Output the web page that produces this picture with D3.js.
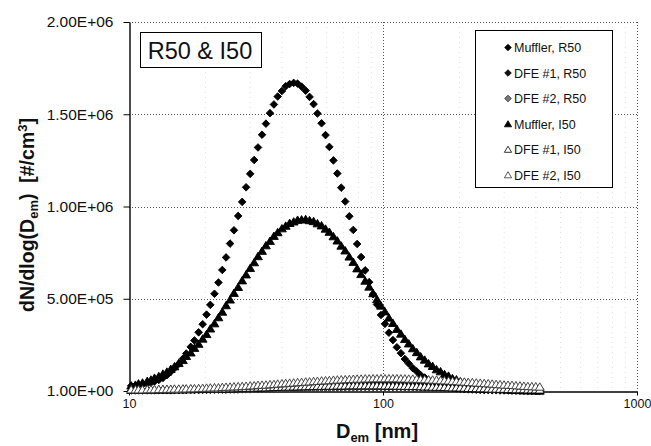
<!DOCTYPE html>
<html>
<head>
<meta charset="utf-8">
<script src="https://cdn.jsdelivr.net/npm/d3@7"></script>
<style>
  html, body { margin: 0; padding: 0; background: #fff; }
  svg { display: block; font-family: "Liberation Sans", Arial, Helvetica, sans-serif; }
</style>
</head>
<body>
<svg id="chart" width="651" height="446"></svg>
<script>
// SMPS channel mid-point diameters [nm], 64 channels per decade
const diameters = [
  10.2, 10.6, 10.9, 11.3, 11.8, 12.2, 12.6, 13.1, 13.6, 14.1,
  14.6, 15.1, 15.7, 16.3, 16.8, 17.5, 18.1, 18.8, 19.5, 20.2,
  20.9, 21.7, 22.5, 23.3, 24.1, 25.0, 25.9, 26.9, 27.9, 28.9,
  30.0, 31.1, 32.2, 33.4, 34.6, 35.9, 37.2, 38.5, 40.0, 41.4,
  42.9, 44.5, 46.1, 47.8, 49.6, 51.4, 53.3, 55.2, 57.3, 59.4,
  61.5, 63.8, 66.1, 68.5, 71.0, 73.7, 76.4, 79.1, 82.0, 85.1,
  88.2, 91.4, 94.7, 98.2, 101.8, 105.5, 109.4, 113.4, 117.6, 121.9,
  126.3, 131.0, 135.8, 140.7, 145.9, 151.2, 156.8, 162.5, 168.5, 174.7,
  181.1, 187.7, 194.6, 201.7, 209.1, 216.7, 224.7, 232.9, 241.4, 250.3,
  259.5, 269.0, 278.8, 289.0, 299.6, 310.6, 322.0, 333.8, 346.0, 358.7,
  371.8, 385.4, 399.5, 414.2
];

// dN/dlog(Dem) in thousands of particles per cm3
const UNIT = 1e3;

const muffR50 = [
  28, 30, 33, 36, 41, 45, 52, 60, 71, 86,
  104, 124, 147, 175, 203, 239, 274, 318, 362, 414,
  467, 527, 588, 656, 724, 799, 871, 949, 1025, 1104,
  1177, 1252, 1320, 1389, 1449, 1506, 1553, 1596, 1626, 1652,
  1664, 1670, 1666, 1650, 1628, 1594, 1555, 1504, 1451, 1387,
  1323, 1250, 1179, 1102, 1027, 947, 873, 797, 726, 654,
  590, 525, 469, 412, 364, 316, 276, 237, 205, 173,
  149, 124, 106, 86, 73, 59, 50, 40, 33, 26,
  21, 17, 14, 12, 10, 9, 8, 7, 6, 5,
  5, 4, 4, 3, 3, 3, 2, 2, 2, 2,
  1, 1, 1, 1
];

const dfe1R50 = [
  4, 4, 4, 4, 4, 5, 5, 5, 5, 5,
  5, 6, 6, 6, 6, 7, 7, 7, 8, 8,
  8, 9, 9, 10, 10, 11, 11, 12, 12, 13,
  14, 14, 15, 16, 17, 17, 18, 19, 20, 21,
  22, 23, 24, 25, 26, 27, 28, 29, 30, 31,
  32, 33, 33, 34, 35, 36, 36, 37, 37, 38,
  38, 39, 39, 39, 40, 40, 40, 40, 40, 40,
  40, 39, 39, 39, 38, 38, 37, 37, 36, 35,
  35, 34, 33, 32, 31, 30, 29, 28, 27, 26,
  25, 24, 23, 22, 21, 20, 19, 18, 17, 16,
  15, 14, 13, 12
];

const dfe2R50 = [
  2, 2, 2, 2, 2, 2, 3, 3, 3, 3,
  3, 3, 3, 4, 4, 4, 4, 4, 5, 5,
  5, 5, 6, 6, 6, 7, 7, 7, 8, 8,
  8, 9, 9, 10, 10, 11, 11, 12, 12, 13,
  13, 14, 14, 15, 15, 16, 16, 16, 17, 17,
  17, 18, 18, 18, 19, 19, 19, 19, 20, 20,
  20, 20, 20, 20, 20, 20, 20, 20, 20, 19,
  19, 19, 19, 18, 18, 18, 17, 17, 17, 16,
  16, 15, 15, 14, 14, 13, 13, 12, 12, 11,
  11, 10, 10, 9, 9, 8, 8, 8, 7, 7,
  6, 6, 6, 5
];

const muffI50 = [
  29, 33, 40, 45, 54, 61, 71, 80, 93, 104,
  119, 133, 151, 167, 189, 208, 233, 255, 283, 308,
  338, 366, 399, 429, 464, 495, 531, 563, 599, 631,
  666, 697, 730, 759, 789, 813, 840, 860, 881, 895,
  910, 918, 927, 929, 931, 925, 920, 908, 897, 879,
  862, 838, 815, 787, 761, 728, 699, 664, 633, 597,
  565, 529, 497, 462, 431, 397, 368, 336, 310, 281,
  257, 231, 210, 187, 169, 149, 135, 117, 106, 91,
  82, 69, 62, 52, 47, 38, 35, 28, 25, 20,
  18, 14, 13, 10, 9, 7, 6, 5, 4, 3,
  3, 2, 2, 1
];

const dfe1I50 = [
  5, 5, 5, 6, 6, 6, 6, 7, 7, 7,
  7, 8, 8, 8, 9, 9, 10, 10, 10, 11,
  11, 12, 12, 13, 13, 14, 14, 15, 16, 16,
  17, 17, 18, 19, 19, 20, 21, 21, 22, 23,
  23, 24, 24, 25, 25, 26, 26, 27, 27, 28,
  28, 28, 29, 29, 29, 30, 30, 30, 30, 30,
  30, 30, 30, 30, 29, 29, 29, 28, 28, 27,
  27, 26, 26, 25, 24, 24, 23, 22, 22, 21,
  20, 19, 19, 18, 17, 16, 16, 15, 14, 14,
  13, 12, 12, 11, 11, 10, 10, 9, 9, 9,
  8, 8, 8, 7
];

const dfe2I50 = [
  8, 8, 8, 8, 9, 9, 9, 10, 10, 11,
  11, 12, 12, 13, 13, 14, 14, 15, 16, 17,
  18, 19, 19, 21, 22, 23, 24, 25, 26, 27,
  29, 30, 32, 33, 34, 36, 37, 39, 41, 42,
  44, 45, 47, 48, 50, 51, 53, 54, 56, 57,
  58, 60, 61, 62, 63, 64, 65, 66, 66, 67,
  67, 68, 68, 68, 68, 68, 68, 68, 67, 67,
  66, 66, 65, 64, 63, 62, 61, 60, 58, 57,
  56, 54, 53, 51, 50, 48, 47, 45, 44, 42,
  41, 39, 37, 36, 34, 33, 32, 30, 29, 27,
  26, 25, 24, 23
];

const seriesNames = [
  "Muffler, R50", "DFE #1, R50", "DFE #2, R50",
  "Muffler, I50", "DFE #1, I50", "DFE #2, I50"
];
const seriesValues = [muffR50, dfe1R50, dfe2R50, muffI50, dfe1I50, dfe2I50];

const yTickValues = [1, 5e5, 1e6, 1.5e6, 2e6];
const yTickLabels = ["1.00E+00", "5.00E+05", "1.00E+06", "1.50E+06", "2.00E+06"];
const xTickValues = [10, 100, 1000];
const xTickLabels = ["10", "100", "1000"];
const xMinorGrid = [20, 30, 40, 50, 60, 70, 80, 90, 200, 300, 400, 500, 600, 700, 800, 900];

// ---- marker shapes (size argument = half width) ----
const diamondShape = {
  draw(ctx, r) {
    ctx.moveTo(0, -r); ctx.lineTo(r, 0); ctx.lineTo(0, r); ctx.lineTo(-r, 0); ctx.closePath();
  }
};
const triangleShape = {
  draw(ctx, r) {
    ctx.moveTo(0, -r); ctx.lineTo(r * 1.1, r * 0.85); ctx.lineTo(-r * 1.1, r * 0.85); ctx.closePath();
  }
};

const seriesStyles = [
  { shape: diamondShape, size: 3.8, fill: "#000", stroke: "#000" },
  { shape: diamondShape, size: 3.6, fill: "#111", stroke: "#000" },
  { shape: diamondShape, size: 3.6, fill: "#7a7a7a", stroke: "#222" },
  { shape: triangleShape, size: 4.0, fill: "#000", stroke: "#000" },
  { shape: triangleShape, size: 4.0, fill: "#fff", stroke: "#000" },
  { shape: triangleShape, size: 4.0, fill: "#fff", stroke: "#333" }
];

// ---- layout ----
const W = 651, H = 446;
const margin = { top: 22, right: 14, bottom: 55, left: 129 };
const svg = d3.select("#chart");

const x = d3.scaleLog().domain([10, 1000]).range([margin.left, W - margin.right]);
const y = d3.scaleLinear().domain([1, 2e6]).range([H - margin.bottom, margin.top]);

// ---- grid ----
const grid = svg.append("g").attr("class", "grid");
grid.selectAll("line.minor").data(xMinorGrid).join("line")
  .attr("class", "minor")
  .attr("x1", d => x(d)).attr("x2", d => x(d))
  .attr("y1", y(2e6)).attr("y2", y(1))
  .attr("stroke", "#e2e2e2").attr("stroke-width", 1).attr("stroke-dasharray", "1,4");
grid.selectAll("line.h").data(yTickValues.slice(1)).join("line")
  .attr("class", "h")
  .attr("x1", x(10)).attr("x2", x(1000))
  .attr("y1", d => Math.round(y(d)) + 0.5).attr("y2", d => Math.round(y(d)) + 0.5)
  .attr("stroke", "#555").attr("stroke-width", 1).attr("stroke-dasharray", "1,2");
grid.selectAll("line.v").data(xTickValues.slice(1)).join("line")
  .attr("class", "v")
  .attr("x1", d => Math.round(x(d)) + 0.5).attr("x2", d => Math.round(x(d)) + 0.5)
  .attr("y1", y(2e6)).attr("y2", y(1))
  .attr("stroke", "#555").attr("stroke-width", 1).attr("stroke-dasharray", "1,2");

// ---- axes ----
const yAxis = d3.axisLeft(y)
  .tickValues(yTickValues)
  .tickFormat((d, i) => yTickLabels[i])
  .tickSize(6).tickSizeOuter(0).tickPadding(10);
const gy = svg.append("g").attr("transform", `translate(${margin.left + 0.5},0)`).call(yAxis);
gy.selectAll("text").attr("font-size", 15.5).attr("fill", "#111").attr("font-family", null);
gy.select(".domain").attr("stroke-width", 1.4);

const xAxis = d3.axisBottom(x)
  .tickValues(xTickValues)
  .tickFormat((d, i) => xTickLabels[i])
  .tickSize(4).tickSizeOuter(0).tickPadding(4);
const gx = svg.append("g").attr("transform", `translate(0,${H - margin.bottom + 0.5})`).call(xAxis);
gx.selectAll("text").attr("font-size", 12.5).attr("fill", "#111").attr("font-family", null);
gx.select(".domain").attr("stroke-width", 1.4);

// ---- data markers ----
const plot = svg.append("g").attr("class", "series");
seriesValues.forEach((vals, s) => {
  const st = seriesStyles[s];
  const sym = d3.symbol().type(st.shape).size(st.size);
  plot.append("g")
    .selectAll("path")
    .data(vals.map((v, i) => ({ d: diameters[i], n: v * UNIT })))
    .join("path")
    .attr("transform", p => `translate(${x(p.d)},${y(p.n)})`)
    .attr("d", sym)
    .attr("fill", st.fill)
    .attr("stroke", st.stroke)
    .attr("stroke-width", 0.9);
});

// ---- title box ----
const title = svg.append("g");
title.append("rect")
  .attr("x", 140.5).attr("y", 32.5).attr("width", 121).attr("height", 35)
  .attr("fill", "#fff").attr("stroke", "#000").attr("stroke-width", 1);
title.append("text")
  .attr("x", 200).attr("y", 59)
  .attr("text-anchor", "middle")
  .attr("font-size", 23.5).attr("fill", "#111")
  .text("R50 & I50");

// ---- legend ----
const legend = svg.append("g");
legend.append("rect")
  .attr("x", 475.5).attr("y", 30.5).attr("width", 137).attr("height", 157)
  .attr("fill", "#fff").attr("stroke", "#000").attr("stroke-width", 1);
seriesNames.forEach((name, s) => {
  const st = seriesStyles[s];
  const ly = 47.5 + s * 25.5;
  legend.append("path")
    .attr("transform", `translate(508,${ly})`)
    .attr("d", d3.symbol().type(st.shape).size(3.3)())
    .attr("fill", st.fill).attr("stroke", st.stroke).attr("stroke-width", 0.8);
  legend.append("text")
    .attr("x", 514).attr("y", ly + 4.5)
    .attr("font-size", 12.5).attr("fill", "#111")
    .text(name);
});

// ---- axis titles ----
const xt = svg.append("text")
  .attr("x", 377).attr("y", 438)
  .attr("text-anchor", "middle")
  .attr("font-size", 20).attr("font-weight", "bold").attr("fill", "#111");
xt.append("tspan").text("D");
xt.append("tspan").attr("font-size", 13).attr("dy", 3.5).text("em");
xt.append("tspan").attr("dy", -3.5).text(" [nm]");

const yt = svg.append("text")
  .attr("transform", "translate(34,215) rotate(-90)")
  .attr("text-anchor", "middle")
  .attr("font-size", 19.5).attr("font-weight", "bold").attr("fill", "#111")
  .style("white-space", "pre");
yt.append("tspan").text("dN/dlog(D");
yt.append("tspan").attr("font-size", 13).attr("dy", 4).text("em");
yt.append("tspan").attr("dy", -4).text(")  [#/cm");
yt.append("tspan").attr("font-size", 13).attr("dy", -7).text("3");
yt.append("tspan").attr("dy", 7).text("]");
</script>
</body>
</html>
